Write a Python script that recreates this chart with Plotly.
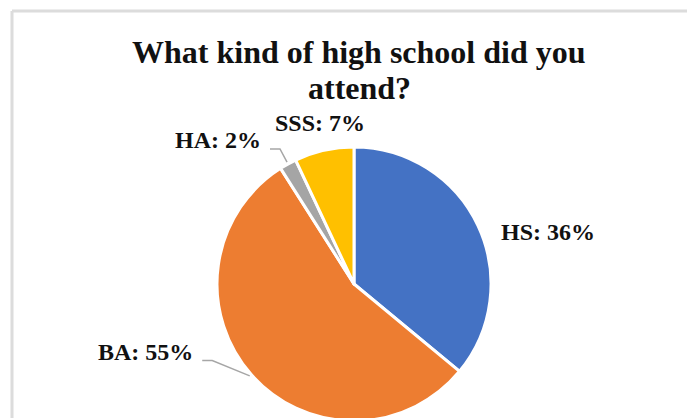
import math
import plotly.graph_objects as go

categories = ["HS", "BA", "HA", "SSS"]
values = [36, 55, 2, 7]
colors = ["#4472C4", "#ED7D31", "#A5A5A5", "#FFC000"]
title_lines = ["What kind of high school did you", "attend?"]

W, H = 695, 418
OFF = 8                      # page body margin: screen = figure + OFF
CX, CY, R = 354, 284, 137    # pie centre / radius in screen px

# label placement (styling): offset of label anchor from the rim point
label_style = {
    "HS":  dict(dx=21,  dy=6,   xanchor="left",   leader=False),
    "BA":  dict(dx=-56, dy=-23, xanchor="right",  leader=True),
    "HA":  dict(dx=-25, dy=-24, xanchor="right",  leader=True),
    "SSS": dict(dx=-4,  dy=-27, xanchor="center", leader=False),
}

def px2paper(x, y):
    return (x - OFF) / W, 1 - (y - OFF) / H

fx0, fy_top = px2paper(CX - R, CY - R)
fx1, fy_bot = px2paper(CX + R, CY + R)

fig = go.Figure(go.Pie(
    labels=categories, values=values, sort=False, direction="clockwise",
    rotation=0, textinfo="none", hoverinfo="label+percent",
    marker=dict(colors=colors, line=dict(color="white", width=3)),
    domain=dict(x=[fx0, fx1], y=[max(fy_bot, 0), fy_top]),
    showlegend=False,
))

total = sum(values)
cum = 0
annotations = []
shapes = []
lab_font = dict(family="Liberation Serif", size=24, color="#111111", weight="bold")
for cat, v in zip(categories, values):
    mid = (cum + v / 2) / total * 2 * math.pi
    cum += v
    rx = CX + R * math.sin(mid)
    ry = CY - R * math.cos(mid)
    st = label_style[cat]
    lx, ly = rx + st["dx"], ry + st["dy"]
    pct = round(v / total * 100)
    ax_, ay_ = px2paper(lx, ly)
    annotations.append(dict(
        x=ax_, y=ay_, xref="paper", yref="paper", showarrow=False,
        text=f"{cat}: {pct}%", xanchor=st["xanchor"], yanchor="middle",
        font=lab_font,
    ))
    if st["leader"]:
        sx = lx + 7
        ex = sx + 10
        ey = ly + 9
        rr = R + 2
        p0 = px2paper(sx, ey)
        p1 = px2paper(ex, ey)
        p2 = px2paper(CX + rr * math.sin(mid), CY - rr * math.cos(mid))
        path = f"M {p0[0]},{p0[1]} L {p1[0]},{p1[1]} L {p2[0]},{p2[1]}"
        shapes.append(dict(type="path", path=path, xref="paper", yref="paper",
                           line=dict(color="#A6A6A6", width=1.5)))

# title, two lines
title_font = dict(family="Liberation Serif", size=32, color="#111111", weight="bold")
for i, line in enumerate(title_lines):
    tx, ty = px2paper(359, 52 + 36 * i)
    annotations.append(dict(x=tx, y=ty, xref="paper", yref="paper", showarrow=False,
                            text=line, xanchor="center", yanchor="middle",
                            font=title_font))

# outer frame (top and left edges visible)
lx0, ly0 = px2paper(12, 11)
shapes.append(dict(type="line", xref="paper", yref="paper",
                   x0=lx0, x1=1.02, y0=ly0, y1=ly0,
                   line=dict(color="#DCDCDC", width=3)))
shapes.append(dict(type="line", xref="paper", yref="paper",
                   x0=lx0, x1=lx0, y0=-0.05, y1=ly0,
                   line=dict(color="#DCDCDC", width=3)))

fig.update_layout(
    width=W, height=H, margin=dict(l=0, r=0, t=0, b=0),
    paper_bgcolor="white", plot_bgcolor="white",
    annotations=annotations, shapes=shapes,
)

fig.write_html("out.html")
